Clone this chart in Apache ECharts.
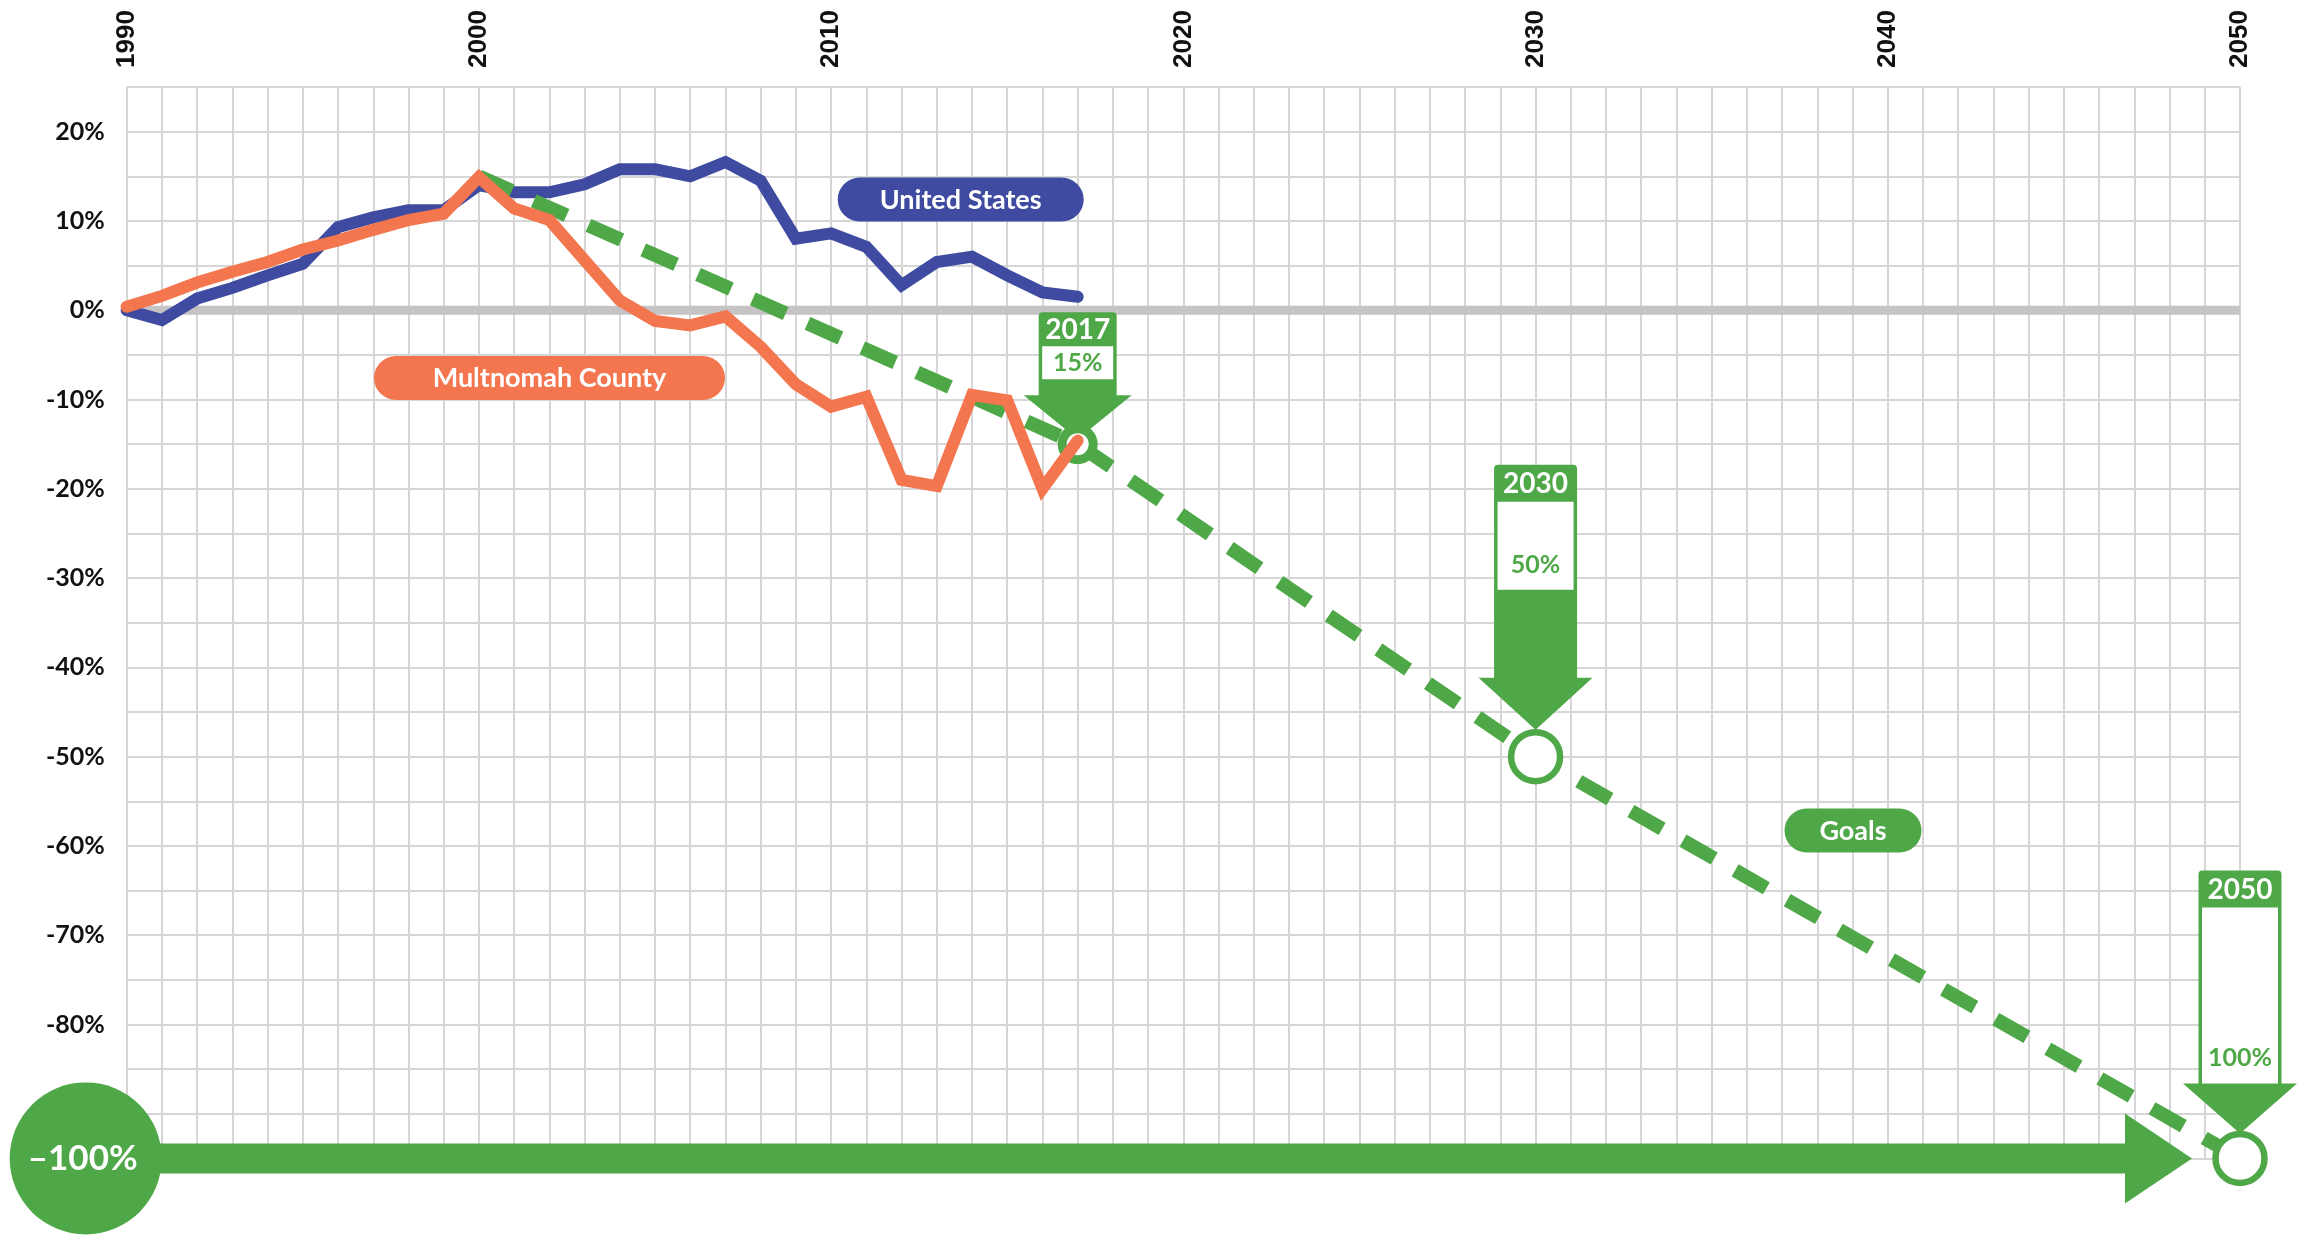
<!DOCTYPE html>
<html>
<head>
<meta charset="utf-8">
<title>Emissions vs 1990</title>
<script src="https://cdn.jsdelivr.net/npm/echarts@6/dist/echarts.min.js"></script>
<style>
  html, body { margin: 0; padding: 0; background: #fff; }
  #chart { width: 2305px; height: 1241px; }
</style>
</head>
<body>
<div id="chart"></div>
<script>
// 数据 (change vs 1990, %)
const years = [1990, 1991, 1992, 1993, 1994, 1995, 1996, 1997, 1998, 1999,
  2000, 2001, 2002, 2003, 2004, 2005, 2006, 2007, 2008, 2009,
  2010, 2011, 2012, 2013, 2014, 2015, 2016, 2017];
const usValues = [0, -1.1, 1.3, 2.5, 3.9, 5.2, 9.3, 10.4, 11.2, 11.2,
  14.0, 13.2, 13.2, 14.1, 15.8, 15.8, 15.0, 16.6, 14.5, 8.0,
  8.6, 7.1, 2.8, 5.4, 6.0, 3.9, 2.0, 1.5];
const multValues = [0.4, 1.6, 3.1, 4.3, 5.4, 6.8, 7.8, 9.0, 10.1, 10.8,
  14.9, 11.4, 10.1, 5.6, 1.1, -1.2, -1.7, -0.7, -4.1, -8.3,
  -10.8, -9.7, -19.0, -19.7, -9.5, -10.1, -20.0, -14.6];
const goalYears = [2000, 2017, 2030, 2050];
const goalValues = [15, -15, -50, -95];
const goalLabels = ['', '15%', '50%', '100%'];
const baseLabel = '–100%';
const xRange = [1990, 2050];
const yRange = [-95, 25];

const BLUE = '#3f4ba1';
const ORANGE = '#f3764f';
const GREEN = '#4fa847';
const GRID = '#d6d6d6';
const ZERO = '#c5c3c4';

var myChart = echarts.init(document.getElementById('chart'));

// callout boxes (pixel offsets from the goal point)
const calloutShape = [
  null,
  { headTop: 132, headW: 78, headH: 34, whiteH: 33, stemH: 16, arrowW: 108, tipGap: 5 },
  { headTop: 292, headW: 83, headH: 37, whiteH: 88, stemH: 88, arrowW: 114, tipGap: 27 },
  { headTop: 288, headW: 83, headH: 37, whiteH: 176, stemH: 0, arrowW: 114, tipGap: 25 }
];
const ringSize = [0, 31, 49, 49];
const ringWidth = [0, 9, 6.5, 6.5];

const pair = (xs, ys) => xs.map((x, i) => [x, ys[i]]);
const lastGoal = goalValues[goalValues.length - 1];

const option = {
  animation: false,
  backgroundColor: '#fff',
  grid: { left: 126.7, right: 65, top: 87, bottom: 82.6 },
  xAxis: {
    type: 'value',
    position: 'top',
    min: xRange[0],
    max: xRange[1],
    interval: 1,
    axisLine: { show: false },
    axisTick: { show: false },
    axisLabel: {
      rotate: 90,
      margin: 19,
      color: '#111',
      fontFamily: 'Liberation Sans',
      fontWeight: 'bold',
      fontSize: 26,
      formatter: function (v) { return v % 10 === 0 ? String(v) : ''; }
    },
    splitLine: { lineStyle: { color: GRID, width: 2 } }
  },
  yAxis: {
    type: 'value',
    min: yRange[0],
    max: yRange[1],
    interval: 5,
    axisLine: { show: false },
    axisTick: { show: false },
    axisLabel: {
      margin: 22,
      color: '#111',
      fontFamily: 'Lato',
      fontWeight: 'bold',
      fontSize: 25,
      formatter: function (v) { return (v % 10 === 0 && v >= -80) ? v + '%' : ''; }
    },
    splitLine: { lineStyle: { color: GRID, width: 2 } }
  },
  series: [
    {
      // 0% 线
      type: 'line',
      data: [[xRange[0], 0], [xRange[1], 0]],
      symbol: 'none',
      silent: true,
      z: 1,
      lineStyle: { color: ZERO, width: 9 }
    },
    {
      name: 'United States',
      type: 'line',
      data: pair(years, usValues),
      symbol: 'none',
      clip: false,
      z: 2,
      lineStyle: { color: BLUE, width: 12, cap: 'round', join: 'miter' }
    },
    {
      name: 'Goals',
      type: 'line',
      data: pair(goalYears, goalValues),
      symbol: 'none',
      clip: false,
      z: 3,
      lineStyle: { color: GREEN, width: 14, type: [36, 24] }
    },
    {
      // -100% 大箭头
      type: 'custom',
      clip: false,
      silent: true,
      z: 3,
      data: [[xRange[0], lastGoal, xRange[1]]],
      renderItem: function (params, api) {
        const p0 = api.coord([api.value(0), api.value(1)]);
        const p1 = api.coord([api.value(2), api.value(1)]);
        const cx = p0[0] - 41, cy = p0[1];
        const baseX = p1[0] - 115;
        return {
          type: 'group',
          children: [
            { type: 'rect', shape: { x: cx, y: cy - 15, width: baseX - cx + 1, height: 30 }, style: { fill: GREEN } },
            { type: 'polygon', shape: { points: [[baseX, cy - 45], [baseX, cy + 45], [p1[0] - 48, cy]] }, style: { fill: GREEN } },
            { type: 'circle', shape: { cx: cx, cy: cy, r: 76 }, style: { fill: GREEN } },
            { type: 'text', style: { x: cx - 3, y: cy, text: baseLabel, fill: '#fff', font: 'bold 35px Lato', align: 'center', verticalAlign: 'middle' } }
          ]
        };
      }
    },
    {
      // 目标标注
      type: 'custom',
      clip: false,
      silent: true,
      z: 4,
      data: pair(goalYears, goalValues).map((d, i) => [d[0], d[1], i]).slice(1),
      renderItem: function (params, api) {
        const idx = api.value(2);
        const c = calloutShape[idx];
        const p = api.coord([api.value(0), api.value(1)]);
        const top = p[1] - c.headTop;
        const x0 = p[0] - c.headW / 2;
        const whiteTop = top + c.headH;
        const whiteBot = whiteTop + c.whiteH;
        const base = whiteBot + c.stemH;
        const tip = p[1] - c.tipGap;
        return {
          type: 'group',
          children: [
            { type: 'rect', shape: { x: x0, y: top, width: c.headW, height: base - top + 1, r: [4, 4, 0, 0] }, style: { fill: GREEN } },
            { type: 'polygon', shape: { points: [[p[0] - c.arrowW / 2, base], [p[0] + c.arrowW / 2, base], [p[0], tip]] }, style: { fill: GREEN } },
            { type: 'rect', shape: { x: x0 + 3.5, y: whiteTop, width: c.headW - 7, height: c.whiteH }, style: { fill: '#fff' } },
            { type: 'text', style: { x: p[0], y: top + c.headH / 2 + 1, text: String(api.value(0)), fill: '#fff', font: 'bold 28px Lato', align: 'center', verticalAlign: 'middle' } },
            { type: 'text', style: { x: p[0], y: whiteBot - Math.min(c.whiteH / 2, 25), text: goalLabels[idx], fill: GREEN, font: 'bold 25px Lato', align: 'center', verticalAlign: 'middle' } }
          ]
        };
      }
    },
    {
      // 目标圆圈
      type: 'scatter',
      clip: false,
      silent: true,
      z: 5,
      data: pair(goalYears, goalValues).slice(1).map((d, i) => ({
        value: d,
        symbolSize: ringSize[i + 1],
        itemStyle: { borderWidth: ringWidth[i + 1] }
      })),
      itemStyle: { color: '#fff', borderColor: GREEN, opacity: 1 }
    },
    {
      name: 'Multnomah County',
      type: 'line',
      data: pair(years, multValues),
      symbol: 'none',
      clip: false,
      z: 6,
      lineStyle: { color: ORANGE, width: 12, cap: 'round', join: 'miter' }
    }
  ],
  graphic: [
    { type: 'rect', z: 20, shape: { x: 960.7 - 123, y: 199.5 - 22, width: 246, height: 44, r: 22 }, style: { fill: BLUE } },
    { type: 'text', z: 21, x: 960.7, y: 200, style: { text: 'United States', fill: '#fff', font: 'bold 27px Lato', align: 'center', verticalAlign: 'middle' } },
    { type: 'rect', z: 20, shape: { x: 549.5 - 175.5, y: 378 - 22, width: 351, height: 44, r: 22 }, style: { fill: ORANGE } },
    { type: 'text', z: 21, x: 549.5, y: 378.5, style: { text: 'Multnomah County', fill: '#fff', font: 'bold 27px Lato', align: 'center', verticalAlign: 'middle' } },
    { type: 'rect', z: 20, shape: { x: 1853 - 68.5, y: 830.5 - 22, width: 137, height: 44, r: 22 }, style: { fill: GREEN } },
    { type: 'text', z: 21, x: 1853, y: 831, style: { text: 'Goals', fill: '#fff', font: 'bold 27px Lato', align: 'center', verticalAlign: 'middle' } }
  ]
};

myChart.setOption(option);
</script>
</body>
</html>
